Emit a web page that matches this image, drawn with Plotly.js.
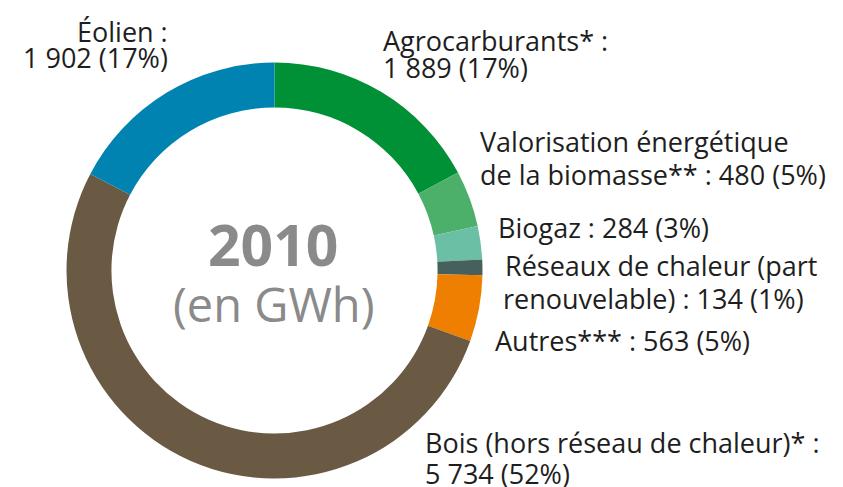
<!DOCTYPE html>
<html>
<head>
<meta charset="utf-8">
<script src="https://cdn.plot.ly/plotly-3.0.1.min.js"></script>
<style>html,body{margin:0;padding:0;background:#fff;}#chart{width:843px;height:487px;}</style>
</head>
<body>
<div id="chart"></div>
<script>
// Data (clockwise from 12 o'clock)
const categories = ["Agrocarburants*", "Valorisation énergétique de la biomasse**", "Biogaz", "Réseaux de chaleur (part renouvelable)", "Autres***", "Bois (hors réseau de chaleur)*", "Éolien"];
const values = [1889, 480, 284, 134, 563, 5734, 1902];
const percents = [17, 5, 3, 1, 5, 52, 17];
const labelHeads = ["Agrocarburants* :", "Valorisation énergétique<br>de la biomasse** :", "Biogaz :", "Réseaux de chaleur (part<br>renouvelable) :", "Autres*** :", "Bois (hors réseau de chaleur)* :", "Éolien :"];
const labelBreakAfterHead = [true, false, false, false, false, true, true];
const colors = ["#009036", "#4caf6a", "#6bbfa5", "#45605d", "#ee7f00", "#6a5a43", "#0083b0"];
const centerTitle = "2010";
const centerSub = "(en GWh)";

function fmt(v) { return String(v).replace(/\B(?=(\d{3})+(?!\d))/g, " "); }

// label placement (pixel positions in the 843x487 canvas): x and one y per line
const labelPos = [
  {x: [381, 381], y: [40, 67.5], xa: "left"},
  {x: [478, 478], y: [141, 174], xa: "left"},
  {x: [496], y: [227.5], xa: "left"},
  {x: [503, 501], y: [265, 298.5], xa: "left"},
  {x: [493], y: [340], xa: "left"},
  {x: [423, 423], y: [442.5, 473.5], xa: "left"},
  {x: [170, 170], y: [31.5, 57], xa: "right"}
];

const W = 843, H = 487;
const annotations = [];
categories.forEach((c, i) => {
  const full = labelHeads[i] + (labelBreakAfterHead[i] ? "<br>" : " ") + fmt(values[i]) + " (" + percents[i] + "%)";
  full.split("<br>").forEach((line, k) => {
    annotations.push({
      xref: "paper", yref: "paper",
      x: labelPos[i].x[k] / W, y: 1 - labelPos[i].y[k] / H,
      xanchor: labelPos[i].xa, yanchor: "middle",
      align: labelPos[i].xa,
      showarrow: false,
      text: line,
      font: {family: "Open Sans", size: 27, color: "#1e1e1e"}
    });
  });
});
annotations.push({
  xref: "paper", yref: "paper", x: 273 / W, y: 1 - 244 / H,
  xanchor: "center", yanchor: "middle", showarrow: false,
  text: "<b>" + centerTitle + "</b>",
  font: {family: "Open Sans", size: 57, color: "#8a8a8a"}
});
annotations.push({
  xref: "paper", yref: "paper", x: 274 / W, y: 1 - 304 / H,
  xanchor: "center", yanchor: "middle", showarrow: false,
  text: centerSub,
  font: {family: "Open Sans", size: 47, color: "#8a8a8a"}
});

const trace = {
  type: "pie",
  labels: categories,
  values: values,
  sort: false,
  direction: "clockwise",
  rotation: 0,
  hole: 0.784,
  textinfo: "none",
  hoverinfo: "label+value",
  marker: {colors: colors, line: {width: 0}},
  domain: {x: [66.5 / W, 482.5 / W], y: [8.5 / H, 424.5 / H]},
  showlegend: false
};

Plotly.newPlot("chart", [trace], {
  width: W, height: H,
  margin: {l: 0, r: 0, t: 0, b: 0},
  paper_bgcolor: "#ffffff",
  showlegend: false,
  annotations: annotations
}, {displayModeBar: false, staticPlot: true});
</script>
</body>
</html>
